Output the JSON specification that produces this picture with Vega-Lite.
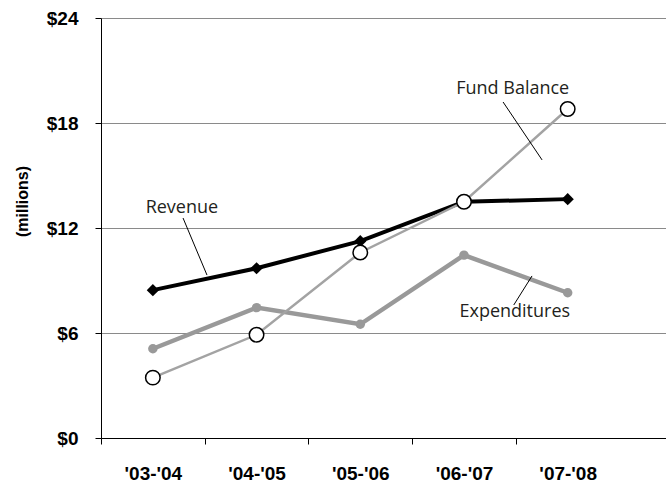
{
  "$schema": "https://vega.github.io/schema/vega-lite/v6.json",
  "autosize": {"type": "none"},
  "padding": {"left": 101, "top": 18, "right": 0, "bottom": 47},
  "width": 565,
  "height": 420,
  "background": "white",
  "config": {"view": {"stroke": null}},
  "datasets": {
    "series": [
      {"series": "Revenue", "period": "'03-'04", "value": 8.45},
      {"series": "Revenue", "period": "'04-'05", "value": 9.7},
      {"series": "Revenue", "period": "'05-'06", "value": 11.25},
      {"series": "Revenue", "period": "'06-'07", "value": 13.5},
      {"series": "Revenue", "period": "'07-'08", "value": 13.65},
      {"series": "Expenditures", "period": "'03-'04", "value": 5.1},
      {"series": "Expenditures", "period": "'04-'05", "value": 7.45},
      {"series": "Expenditures", "period": "'05-'06", "value": 6.5},
      {"series": "Expenditures", "period": "'06-'07", "value": 10.45},
      {"series": "Expenditures", "period": "'07-'08", "value": 8.3},
      {"series": "Fund Balance", "period": "'03-'04", "value": 3.45},
      {"series": "Fund Balance", "period": "'04-'05", "value": 5.9},
      {"series": "Fund Balance", "period": "'05-'06", "value": 10.6},
      {"series": "Fund Balance", "period": "'06-'07", "value": 13.5},
      {"series": "Fund Balance", "period": "'07-'08", "value": 18.8}
    ],
    "notes": [
      {"label": "Revenue", "xq": 0.78, "y": 13.14},
      {"label": "Fund Balance", "xq": 3.97, "y": 19.94},
      {"label": "Expenditures", "xq": 3.99, "y": 7.2}
    ],
    "leaders": [
      {"xq": 0.791, "y": 12.57, "xq2": 1.022, "y2": 9.31},
      {"xq": 3.877, "y": 19.2, "xq2": 4.253, "y2": 15.89},
      {"xq": 3.98, "y": 7.6, "xq2": 4.156, "y2": 9.26}
    ]
  },
  "resolve": {"scale": {"x": "independent"}, "axis": {"x": "independent"}},
  "layer": [
    {
      "data": {"name": "series"},
      "layer": [
        {
          "transform": [{"filter": "datum.series === 'Expenditures'"}],
          "mark": {"type": "line", "color": "#999999", "strokeWidth": 4.5},
          "encoding": {
            "x": {
              "field": "period", "type": "ordinal", "sort": null,
              "scale": {"type": "band", "paddingInner": 0, "paddingOuter": 0.224, "align": 0},
              "axis": {
                "title": null, "labelAngle": 0, "tickBand": "extent",
                "tickOpacity": {"condition": {"test": "datum.index >= 0.99", "value": 0}, "value": 1},
                "domainColor": "#000000", "tickColor": "#000000", "tickSize": 6,
                "labelFont": "Liberation Sans", "labelFontWeight": "bold", "labelFontSize": 19,
                "labelColor": "#000000", "labelPadding": 20, "grid": false
              }
            },
            "y": {
              "field": "value", "type": "quantitative",
              "scale": {"domain": [0, 24]},
              "axis": {
                "values": [0, 6, 12, 18, 24], "grid": true, "gridColor": "#8a8a8a", "gridWidth": 1,
                "domainColor": "#000000", "tickColor": "#000000", "tickSize": 6,
                "labelExpr": "'$' + datum.value",
                "labelFont": "Liberation Sans", "labelFontWeight": "bold", "labelFontSize": 19,
                "labelColor": "#000000", "labelPadding": 17,
                "title": "(millions)", "titleFont": "Liberation Sans", "titleFontWeight": "bold",
                "titleFontSize": 16, "titleColor": "#000000", "titleAngle": 270,
                "titleX": -79, "titleY": 183, "titleAlign": "center", "titleBaseline": "middle"
              }
            }
          }
        },
        {
          "transform": [{"filter": "datum.series === 'Expenditures'"}],
          "mark": {"type": "circle", "color": "#999999", "opacity": 1, "size": 90},
          "encoding": {
            "x": {"field": "period", "type": "ordinal", "sort": null},
            "y": {"field": "value", "type": "quantitative"}
          }
        },
        {
          "transform": [{"filter": "datum.series === 'Revenue'"}],
          "mark": {"type": "line", "color": "#000000", "strokeWidth": 4},
          "encoding": {
            "x": {"field": "period", "type": "ordinal", "sort": null},
            "y": {"field": "value", "type": "quantitative"}
          }
        },
        {
          "transform": [{"filter": "datum.series === 'Revenue'"}],
          "mark": {"type": "point", "shape": "diamond", "filled": true, "color": "#000000", "opacity": 1, "size": 150},
          "encoding": {
            "x": {"field": "period", "type": "ordinal", "sort": null},
            "y": {"field": "value", "type": "quantitative"}
          }
        },
        {
          "transform": [{"filter": "datum.series === 'Fund Balance'"}],
          "mark": {"type": "line", "color": "#a3a3a3", "strokeWidth": 2.5},
          "encoding": {
            "x": {"field": "period", "type": "ordinal", "sort": null},
            "y": {"field": "value", "type": "quantitative"}
          }
        },
        {
          "transform": [{"filter": "datum.series === 'Fund Balance'"}],
          "mark": {"type": "point", "shape": "circle", "filled": true, "fill": "#ffffff", "stroke": "#000000", "strokeWidth": 1.5, "opacity": 1, "size": 210},
          "encoding": {
            "x": {"field": "period", "type": "ordinal", "sort": null},
            "y": {"field": "value", "type": "quantitative"}
          }
        }
      ]
    },
    {
      "layer": [
        {
          "data": {"name": "leaders"},
          "mark": {"type": "rule", "color": "#000000", "strokeWidth": 1},
          "encoding": {
            "x": {"field": "xq", "type": "quantitative", "scale": {"domain": [0, 5.448], "nice": false, "zero": false}, "axis": null},
            "x2": {"field": "xq2"},
            "y": {"field": "y", "type": "quantitative"},
            "y2": {"field": "y2"}
          }
        },
        {
          "data": {"name": "notes"},
          "mark": {"type": "text", "font": "Open Sans", "fontSize": 18, "color": "#231f20", "align": "center", "baseline": "middle"},
          "encoding": {
            "x": {"field": "xq", "type": "quantitative"},
            "y": {"field": "y", "type": "quantitative"},
            "text": {"field": "label"}
          }
        }
      ]
    }
  ]
}
